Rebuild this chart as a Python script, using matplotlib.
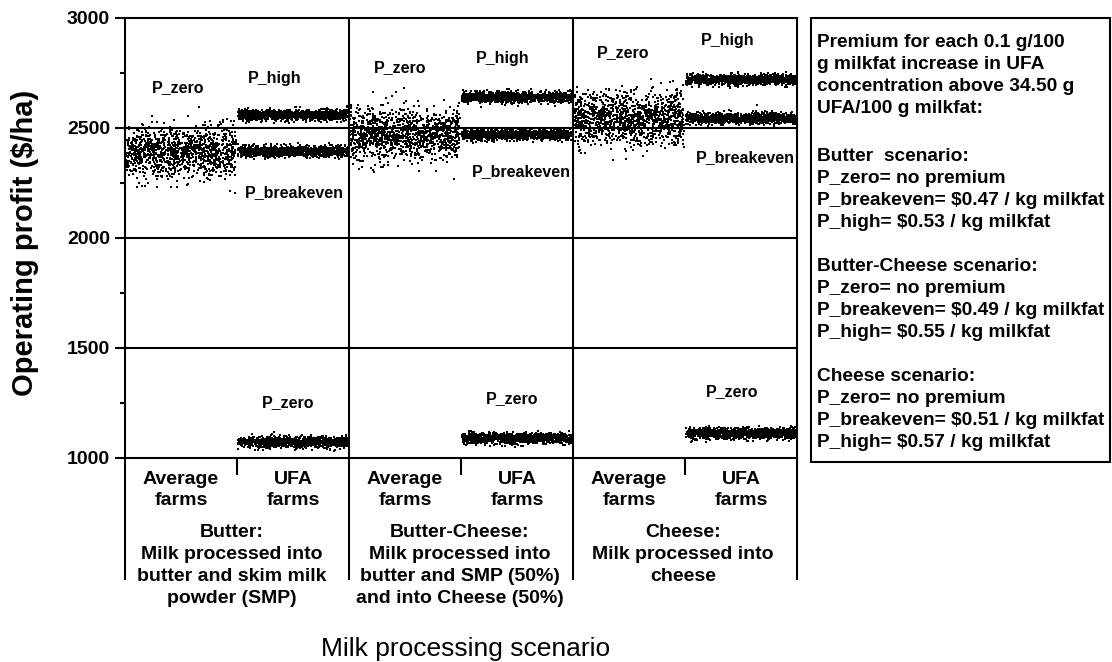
import numpy as np
import matplotlib
matplotlib.use("Agg")
import matplotlib.pyplot as plt
from matplotlib.patches import Rectangle

plt.rcParams['font.family'] = ['Liberation Sans', 'DejaVu Sans']

# ---- data ------------------------------------------------------------
scenarios = ["Butter", "Butter-Cheese", "Cheese"]
farm_types = [["Average", "farms"], ["UFA", "farms"]]
scenario_desc = [
    ["Butter:", "Milk processed into", "butter and skim milk", "powder (SMP)"],
    ["Butter-Cheese:", "Milk processed into", "butter and SMP (50%)", "and into Cheese (50%)"],
    ["Cheese:", "Milk processed into", "cheese"],
]

# operating profit ($/ha): centre and spread of the simulated farm results
avg_farm_mean = [2390, 2472, 2545]
avg_farm_sd = [57, 60, 62]
ufa_zero_mean = [1072, 1090, 1112]
ufa_breakeven_mean = [2393, 2470, 2545]
ufa_high_mean = [2559, 2641, 2720]
ufa_sd = [12, 12, 12]
n_farms = 1200

y_ticks = [1000, 1500, 2000, 2500, 3000]
y_minor = [1250, 1750, 2250, 2750]

premium_text = [
    ["Premium for each 0.1 g/100", "g milkfat increase in UFA",
     "concentration above 34.50 g", "UFA/100 g milkfat:"],
    ["Butter  scenario:", "P_zero= no premium",
     "P_breakeven= $0.47 / kg milkfat", "P_high= $0.53 / kg milkfat"],
    ["Butter-Cheese scenario:", "P_zero= no premium",
     "P_breakeven= $0.49 / kg milkfat", "P_high= $0.55 / kg milkfat"],
    ["Cheese scenario:", "P_zero= no premium",
     "P_breakeven= $0.51 / kg milkfat", "P_high= $0.57 / kg milkfat"],
]

# ---- figure ----------------------------------------------------------
W, H = 1112, 662
fig = plt.figure(figsize=(W / 100, H / 100), dpi=100)
ax = fig.add_axes([125 / W, 1 - 458 / H, 672 / W, 440 / H])
ax.set_xlim(0, 6)
ax.set_ylim(1000, 3000)

LW = 1.5
rng = np.random.default_rng(11)


def cloud(x0, mean, sd):
    y = rng.normal(mean, sd, n_farms)
    x = x0 + rng.uniform(0.01, 0.99, n_farms)
    ax.scatter(x, y, s=2.1, marker='s', c='black', linewidths=0,
               antialiased=False, zorder=3)


for i in range(len(scenarios)):
    x0 = 2 * i
    cloud(x0, avg_farm_mean[i], avg_farm_sd[i])
    for m in (ufa_zero_mean[i], ufa_breakeven_mean[i], ufa_high_mean[i]):
        cloud(x0 + 1, m, ufa_sd[i])

# grid of frame lines
for v in (1500, 2000, 2500):
    ax.axhline(v, color='black', lw=LW, zorder=2)
for v in (2, 4):
    ax.axvline(v, color='black', lw=LW, zorder=2)
for s in ax.spines.values():
    s.set_linewidth(LW)

ax.set_xticks([])
ax.set_yticks(y_ticks)
ax.set_yticks(y_minor, minor=True)
ax.set_yticklabels([str(v) for v in y_ticks], fontsize=14, fontweight='bold')
ax.tick_params(axis='y', which='major', length=7.2, width=LW, pad=3.5)
ax.tick_params(axis='y', which='minor', length=3.6, width=LW)

# scenario / farm-type separators below the axis
tr = ax.get_xaxis_transform()
for xv in (0, 2, 4, 6):
    ax.plot([xv, xv], [0, -122 / 440], transform=tr, color='black',
            lw=LW, clip_on=False, solid_capstyle='butt')
for xv in (1, 3, 5):
    ax.plot([xv, xv], [0, -17 / 440], transform=tr, color='black',
            lw=LW, clip_on=False, solid_capstyle='butt')


def ypx(p):
    return (458 - p) / 440


for i in range(3):
    for j, lines in enumerate(farm_types):
        for k, line in enumerate(lines):
            ax.text(2 * i + j + 0.5, ypx(483.5 + 21.8 * k), line, transform=tr,
                    ha='center', va='baseline', fontsize=14, fontweight='bold')

group_x = [0.95, 2.99, 4.98]
for i, lines in enumerate(scenario_desc):
    for k, line in enumerate(lines):
        ax.text(group_x[i], ypx(537 + 22 * k), line, transform=tr,
                ha='center', va='baseline', fontsize=14, fontweight='bold')

# premium level labels
labels = [
    (0.47, 2686, "P_zero"), (1.34, 2727, "P_high"), (1.51, 2205, "P_breakeven"),
    (2.455, 2773, "P_zero"), (3.375, 2818, "P_high"), (3.536, 2300, "P_breakeven"),
    (4.446, 2845, "P_zero"), (5.384, 2900, "P_high"), (5.536, 2364, "P_breakeven"),
    (1.455, 1250, "P_zero"), (3.455, 1268, "P_zero"), (5.42, 1300, "P_zero"),
]
for x, y, t in labels:
    ax.text(x, y, t, ha='center', va='center', fontsize=11.5,
            fontweight='bold', zorder=4)

# axis titles
fig.text(25 / W, 1 - 243 / H, "Operating profit ($/ha)", rotation=90,
         ha='center', va='center', fontsize=21, fontweight='bold')
fig.text(466 / W, 1 - 649 / H, "Milk processing scenario",
         ha='center', va='center', fontsize=19)

# premium description box
fig.add_artist(Rectangle((811 / W, 1 - 462 / H), (1110 - 811) / W,
                         (462 - 18) / H, transform=fig.transFigure,
                         fill=False, lw=LW, ec='black'))
block_start = [46.7, 160.7, 271.0, 380.7]
for b, lines in enumerate(premium_text):
    for k, line in enumerate(lines):
        fig.text(817 / W, 1 - (block_start[b] + 21.95 * k) / H, line,
                 ha='left', va='baseline', fontsize=13.8, fontweight='bold')

fig.savefig("out.png", dpi=100)
